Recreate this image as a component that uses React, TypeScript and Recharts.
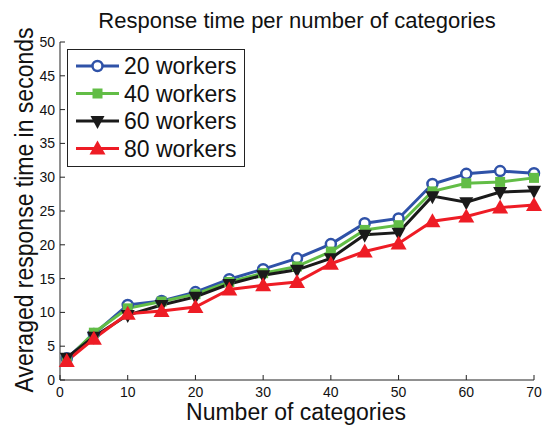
import React from 'react';
import { LineChart, Line, XAxis, YAxis } from 'recharts';

const categories = [1, 5, 10, 15, 20, 25, 30, 35, 40, 45, 50, 55, 60, 65, 70];
const workers20 = [3.2, 6.8, 11.1, 11.7, 13.0, 14.9, 16.4, 18.0, 20.1, 23.2, 23.9, 29.0, 30.5, 30.9, 30.6];
const workers40 = [3.0, 7.0, 10.6, 11.6, 12.7, 14.5, 15.8, 16.8, 19.0, 22.2, 22.9, 27.9, 29.1, 29.3, 29.9];
const workers60 = [3.3, 6.4, 9.6, 11.1, 12.3, 14.2, 15.5, 16.3, 18.0, 21.5, 21.8, 27.2, 26.3, 27.8, 28.0];
const workers80 = [2.8, 6.1, 9.8, 10.2, 10.8, 13.4, 14.0, 14.5, 17.2, 19.0, 20.2, 23.5, 24.2, 25.5, 25.9];
const xTicks = [0, 10, 20, 30, 40, 50, 60, 70];
const yTicks = [0, 5, 10, 15, 20, 25, 30, 35, 40, 45, 50];

const data = categories.map((c, i) => ({
  categories: c,
  w20: workers20[i],
  w40: workers40[i],
  w60: workers60[i],
  w80: workers80[i],
}));

const FONT = 'Liberation Sans, Arial, Helvetica, sans-serif';

type Shape = 'circle' | 'square' | 'down' | 'up';

const SERIES: { key: string; name: string; color: string; shape: Shape }[] = [
  { key: 'w20', name: '20 workers', color: '#2f52a8', shape: 'circle' },
  { key: 'w40', name: '40 workers', color: '#62bd46', shape: 'square' },
  { key: 'w60', name: '60 workers', color: '#1a1a1a', shape: 'down' },
  { key: 'w80', name: '80 workers', color: '#ee1c25', shape: 'up' },
];

function marker(shape: Shape, color: string, cx: number, cy: number, key?: string) {
  if (shape === 'circle') {
    return <circle key={key} cx={cx} cy={cy} r={5} fill="#fff" stroke={color} strokeWidth={2.5} />;
  }
  if (shape === 'square') {
    return <rect key={key} x={cx - 5} y={cy - 5} width={10} height={10} fill={color} />;
  }
  if (shape === 'down') {
    return <path key={key} d={`M${cx - 7},${cy - 5} L${cx + 7},${cy - 5} L${cx},${cy + 8} Z`} fill={color} />;
  }
  return <path key={key} d={`M${cx - 8},${cy + 6} L${cx + 8},${cy + 6} L${cx},${cy - 8} Z`} fill={color} />;
}

// legend box drawn inside the plot, top-left like matlab's 'NorthWest'
const legendBox = (
  <g transform="translate(67,49)">
    <rect x={0.5} y={0.5} width={177} height={117} fill="#fff" stroke="#222" strokeWidth={1} />
    {SERIES.map((s, i) => {
      const y = 17 + i * 27.5;
      return (
        <g key={s.key}>
          <line x1={9} x2={52} y1={y} y2={y} stroke={s.color} strokeWidth={3} />
          {marker(s.shape, s.color, 30.5, y)}
          <text x={57} y={y + 8} fontSize={23} fontFamily={FONT} fill="#111">
            {s.name}
          </text>
        </g>
      );
    })}
  </g>
);

export default function App() {
  return (
    <div style={{ position: 'absolute', left: 0, top: 0, background: '#fff' }}>
      <LineChart width={544} height={425} data={data} margin={{ top: 42, right: 10, bottom: 0, left: 0 }}>
        <XAxis
          dataKey="categories"
          type="number"
          domain={[0, 70]}
          ticks={xTicks}
          height={45}
          stroke="#222"
          tickSize={-5}
          tickMargin={12}
          tick={{ fill: '#111', fontSize: 14, fontFamily: FONT }}
        />
        <YAxis
          type="number"
          domain={[0, 50]}
          ticks={yTicks}
          width={60}
          stroke="#222"
          tickSize={-5}
          tickMargin={10}
          tick={{ fill: '#111', fontSize: 14, fontFamily: FONT }}
        />
        {SERIES.map((s) => (
          <Line
            key={s.key}
            dataKey={s.key}
            name={s.name}
            stroke={s.color}
            strokeWidth={3}
            isAnimationActive={false}
            dot={(p: any) => marker(s.shape, s.color, p.cx, p.cy, `${s.key}-${p.index}`)}
            activeDot={false}
          />
        ))}
        {legendBox}
        <text x={297} y={28} textAnchor="middle" fontSize={22} fontFamily={FONT} fill="#111">
          Response time per number of categories
        </text>
        <text x={296} y={420} textAnchor="middle" fontSize={23} fontFamily={FONT} fill="#111">
          Number of categories
        </text>
        <text
          x={0}
          y={0}
          textAnchor="middle"
          fontSize={23}
          fontFamily={FONT}
          fill="#111"
          transform="translate(33 210) scale(1.15 1) rotate(-90)"
        >
          Averaged response time in seconds
        </text>
      </LineChart>
    </div>
  );
}
